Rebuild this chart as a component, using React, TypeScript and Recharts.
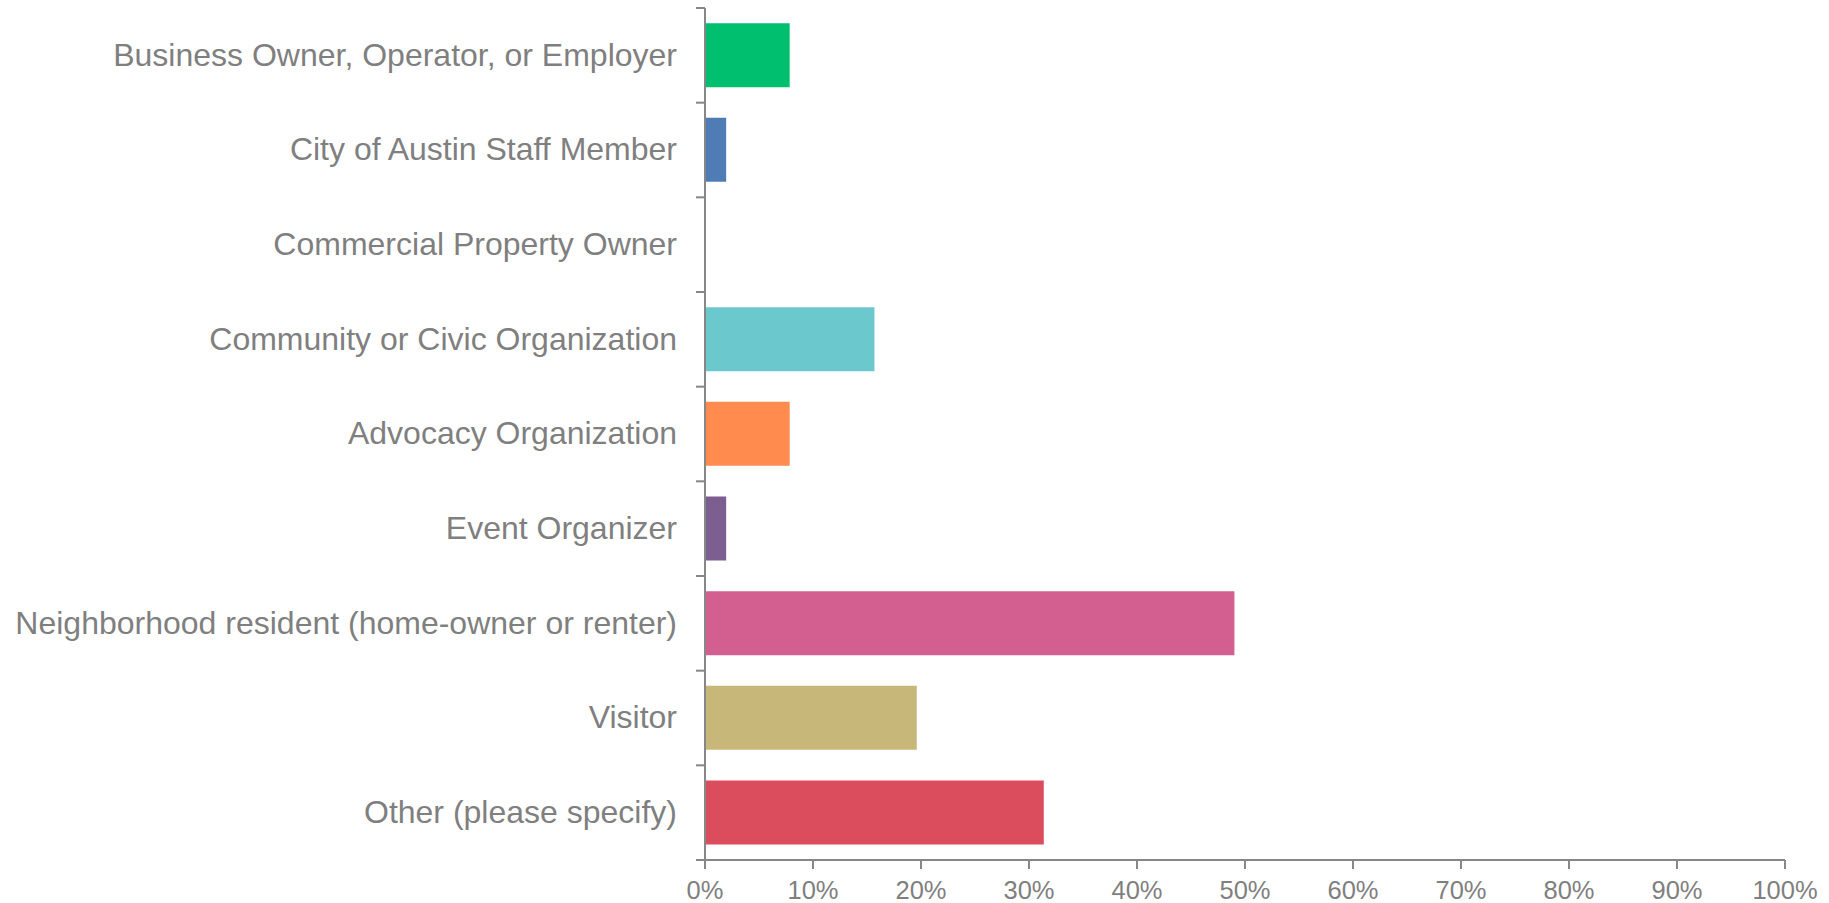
import React from 'react';
import { BarChart, Bar, Cell, XAxis, YAxis } from 'recharts';

const categories = [
  'Business Owner, Operator, or Employer',
  'City of Austin Staff Member',
  'Commercial Property Owner',
  'Community or Civic Organization',
  'Advocacy Organization',
  'Event Organizer',
  'Neighborhood resident (home-owner or renter)',
  'Visitor',
  'Other (please specify)',
];

const percents = [7.84, 1.96, 0, 15.69, 7.84, 1.96, 49.02, 19.61, 31.37];

const barColors = [
  '#00BF6F',
  '#507CB6',
  '#F9BE00',
  '#6BC8CD',
  '#FF8B4F',
  '#7D5E90',
  '#D25F90',
  '#C7B879',
  '#DB4D5C',
];

const xTicks = [0, 10, 20, 30, 40, 50, 60, 70, 80, 90, 100];

const W = 1829;
const H = 903;
const MARGIN = { top: 8, right: 44, bottom: 0, left: 0 };
const Y_AXIS_W = 705;
const X_AXIS_H = 43;
const TICK_LEN = 9;
const LABEL_GAP = 28;
const AXIS_GREY = '#878787';
const TEXT_GREY = '#7f7f7f';
const FONT = '"Liberation Sans", Arial, Helvetica, sans-serif';

const data = categories.map((name, i) => ({ name, value: percents[i], color: barColors[i] }));

const plotH = H - MARGIN.top - MARGIN.bottom - X_AXIS_H;
const halfBand = plotH / categories.length / 2;

// category ticks sit between bars, so draw them offset by half a band
function CategoryTick(props: any) {
  const { x, y, payload, index } = props;
  const axisX = x + LABEL_GAP;
  const last = index === categories.length - 1;
  return (
    <g>
      <line x1={axisX - TICK_LEN} x2={axisX} y1={y - halfBand} y2={y - halfBand} stroke={AXIS_GREY} strokeWidth={2} />
      {last && (
        <line x1={axisX - TICK_LEN} x2={axisX} y1={y + halfBand} y2={y + halfBand} stroke={AXIS_GREY} strokeWidth={2} />
      )}
      <text x={x} y={y} dy="0.32em" textAnchor="end" fill={TEXT_GREY} fontSize={32} fontFamily={FONT}>
        {payload.value}
      </text>
    </g>
  );
}

export default function App() {
  return (
    <div style={{ position: 'absolute', left: 0, top: 0, width: W, height: H, background: '#fff' }}>
      <BarChart
        width={W}
        height={H}
        data={data}
        layout="vertical"
        margin={MARGIN}
        barCategoryGap="16%"
      >
        <XAxis
          type="number"
          domain={[0, 100]}
          ticks={xTicks}
          tickFormatter={(v: number) => `${v}%`}
          height={X_AXIS_H}
          axisLine={{ stroke: AXIS_GREY, strokeWidth: 2 }}
          tickLine={{ stroke: AXIS_GREY, strokeWidth: 2 }}
          tickSize={TICK_LEN}
          tickMargin={12}
          tick={{ fill: TEXT_GREY, fontSize: 25.5, fontFamily: FONT }}
          interval={0}
        />
        <YAxis
          type="category"
          dataKey="name"
          width={Y_AXIS_W}
          axisLine={{ stroke: AXIS_GREY, strokeWidth: 2 }}
          tickLine={false}
          tickSize={0}
          tickMargin={LABEL_GAP}
          tick={<CategoryTick />}
          interval={0}
        />
        <Bar dataKey="value" isAnimationActive={false}>
          {data.map((d) => (
            <Cell key={d.name} fill={d.color} />
          ))}
        </Bar>
      </BarChart>
    </div>
  );
}
